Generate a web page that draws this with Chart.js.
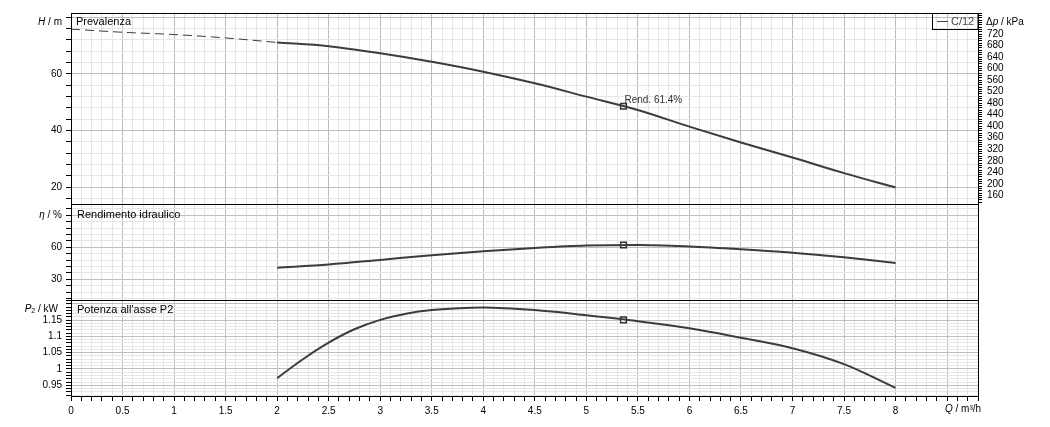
<!DOCTYPE html>
<html>
<head>
<meta charset="utf-8">
<script src="https://cdn.jsdelivr.net/npm/chart.js@4.4.1/dist/chart.umd.min.js"></script>
<style>
    html, body { margin: 0; padding: 0; background: #fff; }
    #wrap { position: relative; width: 1050px; height: 427px; }
    #wrap canvas { position: absolute; left: 0; top: 0; }
</style>
</head>
<body>
<div id="wrap">
    <canvas id="chartHead" width="1050" height="427"></canvas>
    <canvas id="chartEff" width="1050" height="427"></canvas>
    <canvas id="chartPower" width="1050" height="427"></canvas>
</div>
<script>
// --- Data (Q in m³/h) ---
const qDashed = [0, 0.5, 1, 1.5, 2];
const headDashed = [75.8, 74.7, 73.9, 72.7, 71.1];

const qCurve = [2, 2.5, 3, 3.5, 4, 4.5, 5, 5.5, 6, 6.5, 7, 7.5, 8];
const headValues = [71.1, 69.8, 67.3, 64.3, 60.8, 56.7, 52.0, 47.3, 41.4, 35.8, 30.5, 25.0, 19.9];
const effValues = [40.9, 43.9, 48.2, 52.6, 56.3, 59.4, 61.7, 62.2, 60.8, 58.2, 55.0, 50.6, 45.3];

const qPower = [2, 2.25, 2.5, 2.75, 3, 3.25, 3.5, 4, 4.5, 5, 5.5, 6, 6.5, 7, 7.5, 8];
const powerValues = [0.972, 1.030, 1.081, 1.122, 1.151, 1.170, 1.181, 1.189, 1.181, 1.165, 1.147, 1.125, 1.096, 1.064, 1.015, 0.942];

// duty point (best efficiency)
const dutyQ = 5.36;
const dutyHead = 48.6;
const dutyEff = 62.2;
const dutyPower = 1.151;
const dutyLabel = 'Rend. 61.4%';
const seriesName = 'C/12';

// --- Tick labels ---
const xTickLabels = [0, 0.5, 1, 1.5, 2, 2.5, 3, 3.5, 4, 4.5, 5, 5.5, 6, 6.5, 7, 7.5, 8];
const headTickLabels = [20, 40, 60];
const effTickLabels = [30, 60];
const powerTickLabels = [0.95, 1, 1.05, 1.1, 1.15];
const dpTickLabels = [160, 200, 240, 280, 320, 360, 400, 440, 480, 520, 560, 600, 640, 680, 720];

const FONT = "'Liberation Sans Narrow', 'Liberation Sans', Arial, sans-serif";
const CURVE = '#3c3c3c';
const GRID_MAJOR = '#bdbdbd';
const GRID_MINOR = '#e6e6e6';

function stepTicks(min, max, step) {
    const out = [];
    const n0 = Math.ceil(min / step - 1e-9);
    const n1 = Math.floor(max / step + 1e-9);
    for (let i = n0; i <= n1; i++) out.push({ value: +(i * step).toFixed(4) });
    return out;
}

function isMultiple(v, m) {
    const r = v / m;
    return Math.abs(r - Math.round(r)) < 1e-6;
}

function xScale(showLabels) {
    return {
        type: 'linear',
        min: 0,
        max: 8.8,
        afterBuildTicks: s => { s.ticks = stepTicks(0, 8.8, 0.1); },
        afterFit: s => { s.height = showLabels ? 31 : 0; },
        border: { display: false },
        grid: {
            color: c => isMultiple(c.tick.value, 0.5) ? GRID_MAJOR : GRID_MINOR,
            drawTicks: showLabels,
            tickColor: '#000',
            tickLength: 5
        },
        ticks: {
            display: showLabels,
            autoSkip: false,
            maxRotation: 0,
            color: '#000',
            padding: 4,
            font: { family: FONT, size: 10 },
            callback: v => xTickLabels.includes(v) ? String(v) : ''
        }
    };
}

function leftScale(min, max, step, majorStep, labels) {
    return {
        type: 'linear',
        position: 'left',
        min: min,
        max: max,
        afterBuildTicks: s => { s.ticks = stepTicks(min, max, step); },
        afterFit: s => { s.width = 71; },
        border: { display: false },
        grid: {
            color: c => isMultiple(c.tick.value, majorStep) ? GRID_MAJOR : GRID_MINOR,
            tickColor: '#000',
            tickLength: 5
        },
        ticks: {
            autoSkip: false,
            color: '#000',
            padding: 4,
            font: { family: FONT, size: 10 },
            callback: v => labels.includes(v) ? String(v) : ''
        }
    };
}

function curveDataset(xs, ys, extra) {
    return Object.assign({
        data: xs.map((x, i) => ({ x: x, y: ys[i] })),
        borderColor: CURVE,
        borderWidth: 2,
        pointRadius: 0,
        fill: false,
        cubicInterpolationMode: 'monotone'
    }, extra || {});
}

function dutyDataset(y) {
    return {
        data: [{ x: dutyQ, y: y }],
        showLine: false,
        pointStyle: 'rect',
        pointRadius: 4,
        pointBackgroundColor: '#fff',
        pointBorderColor: '#333',
        pointBorderWidth: 1.5
    };
}

// draw mixed italic/normal text pieces, anchored left or right
function drawParts(ctx, parts, x, y, align) {
    const widths = parts.map(p => {
        ctx.font = (p.italic ? 'italic ' : '') + (p.size || 10) + 'px ' + FONT;
        return ctx.measureText(p.text).width;
    });
    const total = widths.reduce((a, b) => a + b, 0);
    let cx = align === 'right' ? x - total : x;
    ctx.textAlign = 'left';
    ctx.textBaseline = 'middle';
    parts.forEach((p, i) => {
        ctx.font = (p.italic ? 'italic ' : '') + (p.size || 10) + 'px ' + FONT;
        ctx.fillText(p.text, cx, y + (p.dy || 0));
        cx += widths[i];
    });
}

// frame + texts for each panel
function panelPlugin(drawTexts) {
    return {
        id: 'panel',
        afterDatasetsDraw(chart) {
            const { ctx, chartArea } = chart;
            ctx.save();
            ctx.strokeStyle = '#000';
            ctx.lineWidth = 1;
            ctx.strokeRect(Math.round(chartArea.left) + 0.5, Math.round(chartArea.top) + 0.5,
                Math.round(chartArea.right - chartArea.left), Math.round(chartArea.bottom - chartArea.top));
            ctx.fillStyle = '#000';
            drawTexts(chart, ctx);
            ctx.restore();
        }
    };
}

const baseOptions = {
    responsive: false,
    animation: false,
    plugins: { legend: { display: false }, tooltip: { enabled: false } }
};

// --- Head panel ---
new Chart(document.getElementById('chartHead'), {
    type: 'line',
    data: {
        datasets: [
            curveDataset(qDashed, headDashed, { borderWidth: 1, borderDash: [9, 5] }),
            curveDataset(qCurve, headValues),
            dutyDataset(dutyHead)
        ]
    },
    options: Object.assign({}, baseOptions, {
        layout: { padding: { top: 13, bottom: 223, left: 0, right: 0 } },
        scales: {
            x: xScale(false),
            y: leftScale(14.1, 81.5, 4, 20, headTickLabels),
            y2: {
                type: 'linear',
                position: 'right',
                min: 130,
                max: 793,
                afterBuildTicks: s => { s.ticks = stepTicks(130, 793, 8); },
                afterFit: s => { s.width = 72; },
                border: { display: false },
                grid: { drawOnChartArea: false, tickColor: '#000', tickLength: 4 },
                ticks: {
                    autoSkip: false,
                    color: '#000',
                    padding: 5,
                    font: { family: FONT, size: 10 },
                    callback: v => dpTickLabels.includes(v) ? String(v) : ''
                }
            }
        }
    }),
    plugins: [panelPlugin((chart, ctx) => {
        const a = chart.chartArea;
        drawParts(ctx, [{ text: 'Prevalenza', size: 11 }], a.left + 5, a.top + 9, 'left');
        drawParts(ctx, [{ text: 'H', italic: true }, { text: ' / m' }], 62, a.top + 9, 'right');
        drawParts(ctx, [{ text: 'Δ' }, { text: 'p', italic: true }, { text: ' / kPa' }], 986, a.top + 9, 'left');
        // series legend box
        ctx.strokeStyle = '#000';
        ctx.strokeRect(932.5, a.top + 0.5, a.right - 932.5, 16);
        ctx.strokeStyle = '#444';
        ctx.beginPath();
        ctx.moveTo(937, a.top + 8.5);
        ctx.lineTo(948, a.top + 8.5);
        ctx.stroke();
        ctx.fillStyle = '#444';
        drawParts(ctx, [{ text: seriesName, size: 11 }], 951, a.top + 9, 'left');
        // duty point annotation
        const px = chart.scales.x.getPixelForValue(dutyQ);
        const py = chart.scales.y.getPixelForValue(dutyHead);
        ctx.fillStyle = '#333';
        drawParts(ctx, [{ text: dutyLabel }], px + 1, py - 6, 'left');
    })]
});

// --- Efficiency panel ---
new Chart(document.getElementById('chartEff'), {
    type: 'line',
    data: {
        datasets: [
            curveDataset(qCurve, effValues),
            dutyDataset(dutyEff)
        ]
    },
    options: Object.assign({}, baseOptions, {
        layout: { padding: { top: 204, bottom: 127, left: 0, right: 72 } },
        scales: {
            x: xScale(false),
            y: leftScale(10.6, 100.6, 6, 30, effTickLabels)
        }
    }),
    plugins: [panelPlugin((chart, ctx) => {
        const a = chart.chartArea;
        drawParts(ctx, [{ text: 'Rendimento idraulico', size: 11 }], a.left + 6, a.top + 11, 'left');
        drawParts(ctx, [{ text: 'η', italic: true }, { text: ' / %' }], 62, a.top + 11, 'right');
    })]
});

// --- Shaft power panel ---
new Chart(document.getElementById('chartPower'), {
    type: 'line',
    data: {
        datasets: [
            curveDataset(qPower, powerValues),
            dutyDataset(dutyPower)
        ]
    },
    options: Object.assign({}, baseOptions, {
        layout: { padding: { top: 300, bottom: 0, left: 0, right: 72 } },
        scales: {
            x: xScale(true),
            y: leftScale(0.917, 1.212, 0.01, 0.05, powerTickLabels)
        }
    }),
    plugins: [panelPlugin((chart, ctx) => {
        const a = chart.chartArea;
        drawParts(ctx, [{ text: "Potenza all'asse P2", size: 11 }], a.left + 6, a.top + 10, 'left');
        drawParts(ctx, [{ text: 'P', italic: true }, { text: '2', size: 7, dy: 2 }, { text: ' / kW' }], 58, a.top + 9, 'right');
        drawParts(ctx, [{ text: 'Q', italic: true }, { text: ' / m³/h' }], 945, a.bottom + 13, 'left');
    })]
});
</script>
</body>
</html>
